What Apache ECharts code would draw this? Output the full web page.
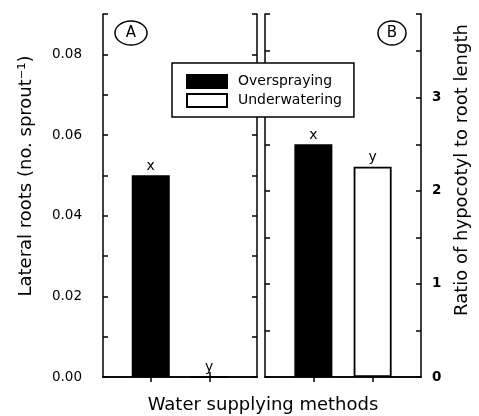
<!DOCTYPE html>
<html>
<head>
<meta charset="utf-8">
<script src="https://cdn.jsdelivr.net/npm/echarts@6/dist/echarts.min.js"></script>
<style>html,body{margin:0;padding:0;background:#fff}#c{width:479px;height:416px}</style>
</head>
<body>
<div id="c"></div>
<script>
// ---- data ----
const categories = ['Overspraying', 'Underwatering'];
const lateralRoots = [0.05, 0];          // panel A, no. sprout^-1
const hypocotylRatio = [2.5, 2.26];      // panel B, ratio
const lettersA = ['x', 'y'];
const lettersB = ['x', 'y'];
const leftTickLabels = ['0.00', '0.02', '0.04', '0.06', '0.08'];
const rightTickLabels = ['0', '1', '2', '3'];
const panelLabels = ['A', 'B'];

const FONT = 'DejaVu Sans';
const chart = echarts.init(document.getElementById('c'), null, {renderer: 'canvas'});

const axisLine = {show: true, lineStyle: {color: '#000', width: 1.5}};
const positions = categories.map((c, i) => i + 1);

function xAx(grid, pos) {
  return {
    type: 'value', gridIndex: grid, position: pos, min: 0.184, max: 2.816,
    axisLine: axisLine,
    axisTick: {show: true, inside: true, length: 5, customValues: positions, lineStyle: {color: '#000', width: 1.5}},
    axisLabel: {show: false}, splitLine: {show: false}
  };
}
function yAx(grid, pos, max, interval, labels, fmt, extra) {
  return Object.assign({
    type: 'value', gridIndex: grid, position: pos, min: 0, max: max, interval: interval,
    axisLine: axisLine,
    axisTick: {show: true, inside: true, length: 5, lineStyle: {color: '#000', width: 1.5}},
    axisLabel: {show: labels, formatter: fmt, color: '#000', fontFamily: FONT, fontSize: 13.5},
    splitLine: {show: false}
  }, extra || {});
}

const leftFmt = v => { const k = Math.round(v * 100); return k % 2 === 0 ? (leftTickLabels[k / 2] || '') : ''; };
const rightFmt = v => { const k = Math.round(v * 10); return k % 10 === 0 ? (rightTickLabels[k / 10] || '') : ''; };

const styles = [
  {color: '#000', borderColor: '#000', borderWidth: 1.5},
  {color: '#fff', borderColor: '#000', borderWidth: 1.8}
];

const series = [];
[[lateralRoots, lettersA, 0, 0], [hypocotylRatio, lettersB, 2, 3]].forEach(([vals, letters, xi, yi]) => {
  categories.forEach((name, i) => {
    series.push({
      type: 'bar', name: name, xAxisIndex: xi, yAxisIndex: yi,
      barWidth: 38, barGap: '-100%',
      data: [[positions[i], vals[i]]],
      itemStyle: styles[i],
      label: {show: true, position: 'top', distance: 2, formatter: () => letters[i],
               color: '#000', fontFamily: FONT, fontSize: 14},
      emphasis: {disabled: true}
    });
  });
});

const option = {
  animation: false,
  backgroundColor: '#fff',
  grid: [
    {left: 103, top: 14, width: 154, height: 363},
    {left: 265, top: 14, width: 156, height: 363}
  ],
  xAxis: [xAx(0, 'bottom'), xAx(0, 'top'), xAx(1, 'bottom'), xAx(1, 'top')],
  yAxis: [
    yAx(0, 'left', 0.09, 0.01, true, leftFmt, {axisLabel: {show: true, formatter: leftFmt, color: '#000', fontFamily: FONT, fontSize: 13.5, margin: 21}}),
    yAx(0, 'right', 0.09, 0.01, false, null, {}),
    yAx(1, 'left', 3.9, 0.5, false, null, {}),
    yAx(1, 'right', 3.9, 0.5, true, rightFmt, {axisLabel: {show: true, formatter: rightFmt, color: '#000', fontFamily: FONT, fontSize: 13.5, fontWeight: 'bold', margin: 11}})
  ],
  legend: {
    data: categories.map(n => ({name: n, icon: 'rect'})), orient: 'vertical', left: 172, top: 63,
    padding: [11, 12, 9, 14], itemGap: 4, itemWidth: 40, itemHeight: 13,
    backgroundColor: '#fff', borderColor: '#000', borderWidth: 1.5, borderRadius: 0,
    selectedMode: false,
    textStyle: {color: '#000', fontFamily: FONT, fontSize: 14, padding: [0, 0, 0, 6]}
  },
  series: series,
  graphic: [
    {type: 'ellipse', shape: {cx: 131, cy: 33, rx: 16, ry: 12}, style: {fill: '#fff', stroke: '#000', lineWidth: 1.5}, z: 10},
    {type: 'text', x: 131, y: 33, style: {text: panelLabels[0], font: '15px ' + FONT, fill: '#000', align: 'center', verticalAlign: 'middle'}, z: 11},
    {type: 'ellipse', shape: {cx: 392, cy: 33, rx: 14, ry: 12}, style: {fill: '#fff', stroke: '#000', lineWidth: 1.5}, z: 10},
    {type: 'text', x: 392, y: 33, style: {text: panelLabels[1], font: '15px ' + FONT, fill: '#000', align: 'center', verticalAlign: 'middle'}, z: 11},
    {type: 'text', x: 26, y: 176, rotation: Math.PI / 2, style: {text: 'Lateral roots (no. sprout⁻¹)', font: '18px ' + FONT, fill: '#000', align: 'center', verticalAlign: 'middle'}},
    {type: 'text', x: 462, y: 170, rotation: Math.PI / 2, style: {text: 'Ratio of hypocotyl to root length', font: '18px ' + FONT, fill: '#000', align: 'center', verticalAlign: 'middle'}},
    {type: 'text', x: 263, y: 405, style: {text: 'Water supplying methods', font: '18px ' + FONT, fill: '#000', align: 'center', verticalAlign: 'middle'}}
  ]
};
chart.setOption(option);
</script>
</body>
</html>
